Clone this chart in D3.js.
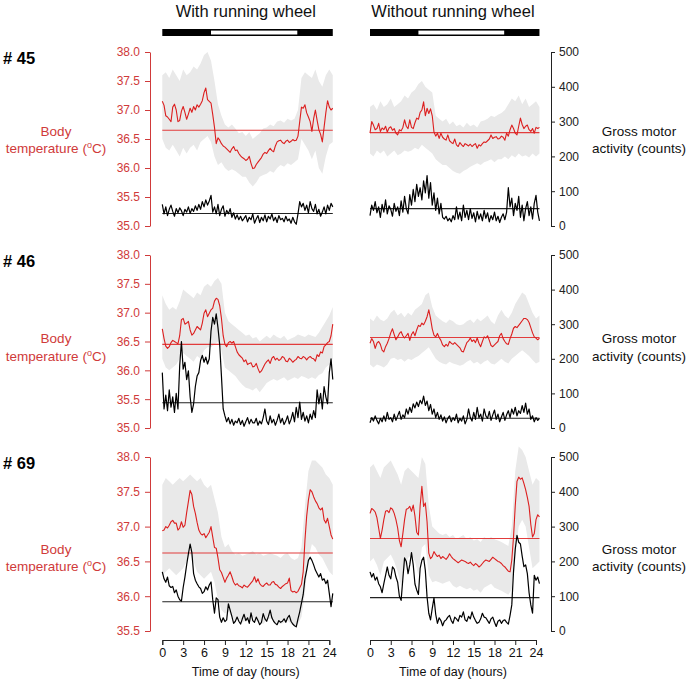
<!DOCTYPE html>
<html><head><meta charset="utf-8">
<script src="https://cdn.jsdelivr.net/npm/d3@7"></script>
<style>body{margin:0;background:#fff}svg{display:block}text{font-family:"Liberation Sans",Arial,Helvetica,sans-serif}</style>
</head><body><svg id="chart" width="689" height="682"></svg>
<script>
// ---------- DATA ----------
const mice = ["# 45", "# 46", "# 69"];
const conditions = ["With running wheel", "Without running wheel"];
const hourTicks = [0, 3, 6, 9, 12, 15, 18, 21, 24];
const tempTicksA = [35.0, 35.5, 36.0, 36.5, 37.0, 37.5, 38.0];
const tempTicksB = [35.5, 36.0, 36.5, 37.0, 37.5, 38.0];
const actTicks = [0, 100, 200, 300, 400, 500];
const lightOn = 7, lightOff = 19.4, dayEnd = 24.5;
const traceStep = 0.25, bandStep = 0.5;

// mean levels [with wheel, without wheel] per mouse
const meanTemp45 = [36.65, 36.61], meanAct45 = [36, 50];
const meanTemp46 = [36.45, 36.57], meanAct46 = [73, 28];
const meanTemp69 = [36.62, 36.83], meanAct69 = [84, 96];

// ----- mouse 45, with wheel -----
const temp45W = [37.15,37.08,36.9,36.88, 36.84,36.8,37.05,37.1, 37.0,36.8,36.82,36.98, 37.06,36.96,36.84,36.93,
 37.03,36.96,37.06,37.0, 37.09,37.05,37.1,37.16, 37.3,37.38,37.18,37.15, 37.12,36.92,36.7,36.42,
 36.52,36.48,36.42,36.38, 36.36,36.33,36.3,36.27, 36.33,36.37,36.3,36.31, 36.25,36.21,36.18,36.16,
 36.13,36.15,36.2,36.08, 35.99,36.0,36.06,36.1, 36.14,36.18,36.24,36.27, 36.25,36.3,36.34,36.3,
 36.28,36.38,36.45,36.47, 36.48,36.44,36.42,36.46, 36.48,36.44,36.46,36.49, 36.47,36.48,36.55,36.8,
 37.05,37.03,37.09,36.95, 36.88,36.8,36.63,36.85, 37.0,36.82,36.66,36.58, 36.45,36.7,36.95,37.16, 37.05,37.0,37.03];
const act45W = [62,35,55,30, 48,60,42,28, 50,38,52,44, 30,48,40,55, 36,50,42,58, 45,62,48,70, 55,75,60,72,
 88,40,55,35, 62,30,48,58, 28,45,35,50, 25,38,20,32, 18,28,15,22, 30,12,25,18, 35,8,20,30, 10,25,15,32,
 12,28,20,35, 15,25,10,30, 18,22,12,28, 15,20,8,25, 12,5,35,70, 55,65,45,60, 38,70,50,42, 62,35,48,28,
 40,55,35,60, 45,65,55];
const hi45W = [37.6,37.65,37.55,37.7,37.6,37.5,37.7,37.6,37.65,37.75, 37.7,37.8,37.95,38.0,37.85,37.5,37.1,36.9,36.75,36.7,
 36.75,36.68,36.6,36.62,36.55,36.62,36.5,36.55,36.6,36.68, 36.7,36.75,36.72,36.8,36.82,36.78,36.85,36.82,36.85,37.0,
 37.55,37.65,37.6,37.55,37.7,37.5,37.4,37.6,37.7,37.6];
const lo45W = [36.5,36.35,36.3,36.4,36.3,36.2,36.35,36.25,36.35,36.4, 36.3,36.45,36.5,36.55,36.45,36.2,36.05,36.1,36.0,35.95,
 35.98,35.95,35.9,35.85,35.85,35.75,35.68,35.75,35.85,35.88, 35.9,35.95,35.92,36.0,36.05,36.02,36.08,36.05,36.1,36.15,
 36.5,36.4,36.3,36.15,36.3,36.0,35.9,36.2,36.4,36.45];

// ----- mouse 45, without wheel -----
const temp45N = [36.6,36.8,36.74,36.66, 36.68,36.77,36.63,36.69, 36.66,36.72,36.62,36.69, 36.71,36.65,36.68,36.6,
 36.57,36.66,36.64,36.7, 36.83,36.72,36.68,36.83, 36.7,36.68,36.78,36.86, 36.84,36.96,37.0,37.14,
 36.9,37.03,36.94,37.02, 36.9,36.62,36.55,36.6, 36.51,36.6,36.53,36.5, 36.48,36.57,36.47,36.44,
 36.42,36.5,36.4,36.37, 36.44,36.4,36.37,36.42, 36.4,36.38,36.41,36.37, 36.4,36.42,36.34,36.4,
 36.38,36.42,36.45,36.44, 36.47,36.5,36.57,36.51, 36.53,36.54,36.5,36.51, 36.55,36.53,36.48,36.6,
 36.55,36.66,36.74,36.68, 36.6,36.57,36.72,36.86, 36.75,36.68,36.72,36.74, 36.66,36.63,36.68,36.6, 36.7,36.68,36.7];
const act45N = [30,60,45,70, 38,55,25,62, 40,75,35,58, 48,28,65,42, 55,30,72,40, 85,50,35,90, 60,105,70,120,
 85,110,75,130, 95,145,80,125, 60,95,45,80, 35,65,25,20, 28,15,22,12, 30,18,55,20, 40,15,60,25, 45,18,50,22,
 38,12,42,20, 35,15,45,22, 38,12,30,18, 40,15,28,10, 25,35,18,40, 110,55,80,30, 65,45,85,25, 60,15,50,70,
 30,55,20,65, 88,40,15];
const hi45N = [37.05,37.1,37.0,37.15,37.05,37.1,37.2,37.05,37.1,37.15, 37.25,37.2,37.3,37.35,37.45,37.5,37.4,37.35,37.3,36.9,
 36.85,36.8,36.85,36.75,36.8,36.72,36.75,36.7,36.78,36.72, 36.75,36.7,36.8,36.82,36.85,36.9,36.88,36.92,36.95,37.0,
 37.1,37.2,37.15,37.25,37.1,37.2,37.05,37.1,37.15,37.05];
const lo45N = [36.25,36.2,36.3,36.25,36.3,36.2,36.25,36.3,36.22,36.25, 36.3,36.28,36.3,36.35,36.32,36.4,36.35,36.3,36.25,36.15,
 36.1,36.05,36.05,36.0,35.95,35.92,35.9,35.95,35.98,36.02, 36.05,36.08,36.05,36.1,36.12,36.15,36.1,36.15,36.15,36.2,
 36.15,36.22,36.18,36.25,36.2,36.22,36.18,36.25,36.2,36.25];

// ----- mouse 46, with wheel -----
const temp46W = [36.72,36.55,36.42,36.38, 36.41,36.48,36.52,36.5, 36.48,36.46,36.6,36.88, 36.9,36.8,36.82,36.85,
 36.7,36.61,36.64,36.7, 36.76,36.73,36.7,36.82, 36.99,37.05,36.93,36.99, 37.05,37.08,37.2,37.25,
 37.23,37.12,36.9,36.6, 36.45,36.41,36.48,36.5, 36.47,36.5,36.41,36.32, 36.27,36.24,36.21,36.15,
 36.18,36.1,36.12,36.13, 36.06,36.07,36.12,36.03, 35.96,35.99,36.05,36.11, 36.15,36.18,36.12,36.21,
 36.24,36.18,36.21,36.17, 36.19,36.24,36.22,36.16, 36.15,36.21,36.18,36.14, 36.17,36.19,36.24,36.21,
 36.2,36.24,36.22,36.18, 36.22,36.24,36.21,36.2, 36.16,36.27,36.24,36.32, 36.3,36.41,36.44,36.48, 36.5,36.6,36.8];
const act46W = [160,55,95,50, 110,60,90,45, 100,55,180,250, 170,190,140,165, 90,45,70,120, 150,160,195,210,
 190,205,185,200, 280,320,300,330, 290,240,150,55, 35,18,30,12, 25,8,20,15, 28,10,22,5, 18,30,12,25,
 15,15,28,8, 20,12,30,55, 20,10,35,15, 25,8,22,40, 15,28,10,20, 35,12,25,45, 18,60,30,75, 25,45,20,35,
 15,40,25,50, 30,110,70,100, 55,120,90,70, 160,200,140];
const hi46W = [37.3,37.15,37.05,37.1,37.05,37.2,37.4,37.35,37.3,37.25, 37.35,37.3,37.45,37.5,37.45,37.55,37.6,37.5,37.0,36.85,
 36.8,36.75,36.7,36.65,36.6,36.62,36.55,36.58,36.5,36.55, 36.6,36.55,36.62,36.58,36.55,36.6,36.52,36.55,36.58,36.62,
 36.6,36.58,36.62,36.6,36.58,36.65,36.75,36.85,36.95,37.1];
const lo46W = [36.2,36.05,36.0,36.05,36.1,36.2,36.3,36.25,36.2,36.15, 36.25,36.2,36.35,36.4,36.4,36.45,36.5,36.35,36.05,36.0,
 35.95,35.9,35.82,35.75,35.7,35.68,35.65,35.7,35.62,35.7, 35.78,35.82,35.85,35.82,35.85,35.88,35.82,35.85,35.88,35.85,
 35.9,35.88,35.85,35.88,35.85,35.92,35.95,36.05,36.1,36.2];

// ----- mouse 46, without wheel -----
const temp46N = [36.47,36.55,36.5,36.38, 36.47,36.5,36.45,36.35, 36.32,36.41,36.47,36.55, 36.65,36.72,36.62,36.53,
 36.58,36.64,36.67,36.6, 36.56,36.6,36.64,36.52, 36.62,36.67,36.6,36.7, 36.78,36.76,36.82,36.79,
 36.85,36.93,37.05,36.9, 36.72,36.61,36.58,36.64, 36.57,36.52,36.44,36.41, 36.45,36.42,36.5,36.47,
 36.45,36.48,36.45,36.42, 36.39,36.33,36.32,36.4, 36.48,36.51,36.56,36.5, 36.53,36.48,36.56,36.47,
 36.41,36.5,36.58,36.56, 36.6,36.52,36.43,36.41, 36.44,36.47,36.5,36.6, 36.64,36.55,36.5,36.46,
 36.45,36.55,36.63,36.73, 36.76,36.74,36.78,36.82, 36.86,36.9,36.9,36.88, 36.83,36.74,36.65,36.58, 36.56,36.53,36.56];
const act46N = [15,30,20,35, 22,12,28,18, 35,20,45,25, 30,18,40,22, 35,48,25,38, 30,55,40,60, 45,70,58,75,
 62,80,70,92, 65,78,50,68, 40,55,30,45, 25,38,20,32, 15,28,35,18, 30,22,40,15, 28,20,35,12, 25,55,30,20,
 45,25,60,30, 40,20,55,35, 28,48,22,38, 52,25,40,18, 32,45,22,38, 50,30,55,40, 60,35,50,42, 65,45,72,40,
 55,25,35,18, 30,22,28];
const hi46N = [36.9,36.85,36.95,36.88,36.85,36.9,37.0,37.05,36.95,37.0, 36.92,37.0,36.95,37.05,37.1,37.15,37.3,37.35,37.1,36.95,
 36.9,36.85,36.82,36.88,36.85,36.8,36.78,36.8,36.85,36.88, 36.82,36.9,36.85,36.9,36.95,36.85,36.8,36.95,37.05,36.95,
 36.9,37.0,37.15,37.25,37.35,37.3,37.15,37.0,36.9,36.95];
const lo46N = [36.1,36.05,36.1,36.08,36.05,36.1,36.2,36.22,36.18,36.2, 36.15,36.2,36.18,36.22,36.25,36.3,36.35,36.4,36.3,36.2,
 36.15,36.12,36.1,36.15,36.12,36.1,36.08,36.1,36.15,36.18, 36.12,36.15,36.1,36.15,36.18,36.12,36.1,36.15,36.2,36.15,
 36.12,36.2,36.25,36.3,36.35,36.3,36.25,36.18,36.12,36.15];

// ----- mouse 69, with wheel -----
const temp69W = [36.94,36.95,37.0,36.98, 37.02,37.07,37.09,37.05, 37.05,36.95,36.98,37.07, 36.99,37.02,37.2,37.36,
 37.52,37.46,37.29,37.19, 37.06,36.95,36.9,36.88, 36.9,36.84,36.88,36.92, 37.0,36.85,36.7,36.69,
 36.55,36.38,36.34,36.27, 36.2,36.26,36.3,36.35, 36.28,36.2,36.16,36.18, 36.15,36.14,36.12,36.16,
 36.14,36.13,36.16,36.19, 36.22,36.28,36.2,36.25, 36.18,36.15,36.14,36.17, 36.19,36.16,36.16,36.2,
 36.21,36.17,36.16,36.13, 36.11,36.14,36.16,36.18, 36.19,36.26,36.08,36.06, 36.07,36.05,36.07,36.12,
 36.17,36.35,36.8,37.15, 37.38,37.53,37.5,37.43, 37.37,37.33,37.27,37.24, 37.27,37.1,37.05,37.12, 37.0,36.88,36.82];
const act69W = [170,150,140,155, 130,125,128,110, 118,100,90,86, 125,155,190,222, 250,225,165,146, 136,127,122,108,
 113,127,118,132, 141,90,51,95, 90,40,25,38, 27,32,78,60, 42,22,28,40, 28,20,35,48, 30,38,22,52, 30,25,40,30,
 18,25,50,35, 28,42,60,38, 28,22,18,30, 25,28,35,25, 38,45,28,20, 15,12,35,55, 80,105,150,175, 203,212,203,190,
 175,165,155,165, 146,150,136,146, 108,70,108];
const hi69W = [37.6,37.7,37.65,37.6,37.65,37.7,37.65,37.7,37.75,37.7, 37.65,37.7,37.6,37.55,37.6,37.4,37.2,36.85,36.7,36.75,
 36.65,36.6,36.62,36.58,36.6,36.62,36.65,36.6,36.62,36.58, 36.6,36.62,36.6,36.58,36.55,36.6,36.62,36.55,36.52,36.55,
 36.7,37.3,37.8,37.95,37.95,37.9,37.85,37.75,37.7,37.6];
const lo69W = [36.3,36.35,36.4,36.35,36.3,36.35,36.4,36.5,36.6,36.5, 36.35,36.3,36.25,36.3,36.35,36.2,35.95,35.8,35.75,35.78,
 35.7,35.65,35.68,35.62,35.65,35.68,35.7,35.65,35.62,35.6, 35.65,35.68,35.65,35.62,35.6,35.62,35.65,35.6,35.58,35.6,
 35.7,36.05,36.55,36.75,36.7,36.6,36.55,36.45,36.35,36.3];

// ----- mouse 69, without wheel -----
const temp69N = [37.19,37.26,37.24,37.21, 37.13,36.98,36.83,36.95, 37.1,37.22,37.23,37.2, 37.27,37.25,37.19,37.1,
 36.98,36.8,36.71,36.9, 37.1,37.25,37.26,37.29, 37.22,37.31,37.15,36.92, 36.88,37.3,37.58,37.29,
 37.34,37.07,36.62,36.54, 36.57,36.64,36.6,36.57, 36.59,36.54,36.57,36.55, 36.53,36.56,36.61,36.57,
 36.54,36.52,36.5,36.48, 36.5,36.52,36.51,36.5, 36.48,36.47,36.49,36.46, 36.44,36.47,36.45,36.42,
 36.44,36.47,36.5,36.52, 36.51,36.5,36.53,36.56, 36.54,36.52,36.5,36.49, 36.47,36.44,36.42,36.39,
 36.36,36.35,36.52,36.85, 37.3,37.65,37.71,37.68, 37.7,37.62,37.53,37.42, 37.29,37.03,36.85,36.9, 37.1,37.17,37.14];
const act69N = [170,155,165,146, 155,136,127,110, 136,160,184,160, 150,184,178,155, 140,100,88,150, 210,200,165,190,
 225,190,135,118, 105,180,203,212, 174,98,51,32, 65,95,48,22, 38,30,15,28, 32,40,45,30, 22,40,35,28, 45,40,55,32,
 28,42,35,55, 40,30,22,25, 35,51,40,38, 30,22,35,40, 25,13,28,32, 22,30,32,25, 20,45,75,170, 235,275,255,250,
 215,185,190,165, 110,75,51,160, 146,155,136];
const hi69N = [37.85,37.9,37.8,37.7,37.85,37.9,37.95,37.85,37.75,37.6, 37.8,37.85,37.8,37.75,37.7,38.0,37.9,37.3,37.0,36.95,
 36.9,36.88,36.9,36.85,36.88,36.82,36.85,36.88,36.82,36.85, 36.8,36.82,36.78,36.85,36.82,36.85,36.82,36.8,36.78,36.75,
 36.72,37.0,37.8,38.15,38.1,38.0,37.8,37.6,37.7,37.65];
const lo69N = [36.5,36.55,36.45,36.3,36.5,36.55,36.6,36.5,36.35,36.15, 36.4,36.55,36.6,36.5,36.3,36.7,36.75,36.3,36.2,36.22,
 36.2,36.18,36.2,36.22,36.15,36.12,36.15,36.12,36.1,36.12, 36.08,36.1,36.05,36.12,36.15,36.18,36.12,36.1,36.08,36.05,
 36.02,36.1,36.6,37.0,37.1,37.0,36.7,36.4,36.45,36.5];

// ---------- ASSEMBLY ----------
const tempSets = [[temp45W, temp45N], [temp46W, temp46N], [temp69W, temp69N]];
const actSets = [[act45W, act45N], [act46W, act46N], [act69W, act69N]];
const hiSets = [[hi45W, hi45N], [hi46W, hi46N], [hi69W, hi69N]];
const loSets = [[lo45W, lo45N], [lo46W, lo46N], [lo69W, lo69N]];
const meanTempSets = [meanTemp45, meanTemp46, meanTemp69];
const meanActSets = [meanAct45, meanAct46, meanAct69];
const tempDomains = [[35, 38], [35, 38], [35.5, 38]];
const tempTickSets = [tempTicksA, tempTicksA, tempTicksB];

// ---------- LAYOUT ----------
const rowsY = [[52, 226], [255, 428], [457, 631]];
const colsX = [[162.3, 329.3], [370, 536]];
const labelBase = [135.5, 343, 553.5];
const RED = "#dc1f1f", AXRED = "#d03a3a", MEANRED = "#e23c3c", GREY = "#e9e9e9", FONT = '"Liberation Sans", Arial, sans-serif';

const svg = d3.select("#chart");
const xs = colsX.map(r => d3.scaleLinear().domain([0, 24]).range(r));

// titles + light/dark bars
conditions.forEach((c, ci) => {
  const x = xs[ci];
  svg.append("text").attr("x", (colsX[ci][0] + colsX[ci][1]) / 2).attr("y", 17)
    .attr("text-anchor", "middle").attr("font-size", 16.5).attr("fill", "#111").text(c);
  svg.append("rect").attr("x", x(0)).attr("y", 29).attr("width", x(dayEnd) - x(0)).attr("height", 7).attr("fill", "#000");
  svg.append("rect").attr("x", x(lightOn)).attr("y", 30.6).attr("width", x(lightOff) - x(lightOn)).attr("height", 3.9).attr("fill", "#fff");
});

mice.forEach((m, ri) => {
  const [top, bot] = rowsY[ri];
  const yT = d3.scaleLinear().domain(tempDomains[ri]).range([bot, top]);
  const yA = d3.scaleLinear().domain([0, 500]).range([bot, top]);

  svg.append("text").attr("x", 3).attr("y", top + 11.5).attr("font-size", 16.5)
    .attr("font-weight", "bold").attr("fill", "#000").text(m);

  // left axis
  const gl = svg.append("g").attr("transform", "translate(150,0)")
    .call(d3.axisLeft(yT).tickValues(tempTickSets[ri]).tickSize(5).tickPadding(5).tickSizeOuter(0).tickFormat(d3.format(".1f")));
  gl.selectAll("path,line").attr("stroke", AXRED);
  gl.selectAll("text").attr("fill", AXRED).attr("font-size", 12).attr("font-family", FONT);

  // right axis
  const gr = svg.append("g").attr("transform", "translate(551,0)")
    .call(d3.axisRight(yA).tickValues(actTicks).tickSize(4).tickPadding(4).tickSizeOuter(0));
  gr.selectAll("path,line").attr("stroke", "#222");
  gr.selectAll("text").attr("fill", "#222").attr("font-size", 12).attr("font-family", FONT);

  // axis titles
  const lb = svg.append("text").attr("text-anchor", "middle").attr("font-size", 13.5).attr("fill", AXRED);
  lb.append("tspan").attr("x", 56).attr("y", labelBase[ri]).text("Body");
  lb.append("tspan").attr("x", 56).attr("y", labelBase[ri] + 17.5).text("temperature (");
  lb.append("tspan").attr("dy", -5).attr("font-size", 9).text("o");
  lb.append("tspan").attr("dy", 5).text("C)");
  const rb = svg.append("text").attr("text-anchor", "middle").attr("font-size", 13.5).attr("fill", "#111");
  rb.append("tspan").attr("x", 639).attr("y", labelBase[ri]).text("Gross motor");
  rb.append("tspan").attr("x", 639).attr("y", labelBase[ri] + 17.5).text("activity (counts)");

  conditions.forEach((c, ci) => {
    const x = xs[ci];
    const g = svg.append("g");
    const hi = hiSets[ri][ci], lo = loSets[ri][ci];
    g.append("path").datum(hi)
      .attr("d", d3.area().x((d, i) => x(i * bandStep)).y0((d, i) => yT(lo[i])).y1(d => yT(d)))
      .attr("fill", GREY);
    g.append("line").attr("x1", x(0)).attr("x2", x(dayEnd))
      .attr("y1", yT(meanTempSets[ri][ci])).attr("y2", yT(meanTempSets[ri][ci]))
      .attr("stroke", MEANRED).attr("stroke-width", 1.1);
    g.append("line").attr("x1", x(0)).attr("x2", x(dayEnd))
      .attr("y1", yA(meanActSets[ri][ci])).attr("y2", yA(meanActSets[ri][ci]))
      .attr("stroke", "#222").attr("stroke-width", 1.1);
    g.append("path").datum(actSets[ri][ci])
      .attr("d", d3.line().x((d, i) => x(i * traceStep)).y(d => yA(d)))
      .attr("fill", "none").attr("stroke", "#000").attr("stroke-width", 1.2).attr("stroke-linejoin", "round");
    g.append("path").datum(tempSets[ri][ci])
      .attr("d", d3.line().x((d, i) => x(i * traceStep)).y(d => yT(d)))
      .attr("fill", "none").attr("stroke", RED).attr("stroke-width", 1.1).attr("stroke-linejoin", "round");
  });
});

// bottom time axes
xs.forEach((x, ci) => {
  const gb = svg.append("g").attr("transform", "translate(0,640)")
    .call(d3.axisBottom(x).tickValues(hourTicks).tickSize(5).tickPadding(3).tickSizeOuter(5));
  gb.selectAll("path,line").attr("stroke", "#222");
  gb.selectAll("text").attr("fill", "#111").attr("font-size", 12.5).attr("font-family", FONT);
  svg.append("text").attr("x", (colsX[ci][0] + colsX[ci][1]) / 2).attr("y", 676)
    .attr("text-anchor", "middle").attr("font-size", 12.5).attr("fill", "#111").text("Time of day (hours)");
});
</script></body></html>
